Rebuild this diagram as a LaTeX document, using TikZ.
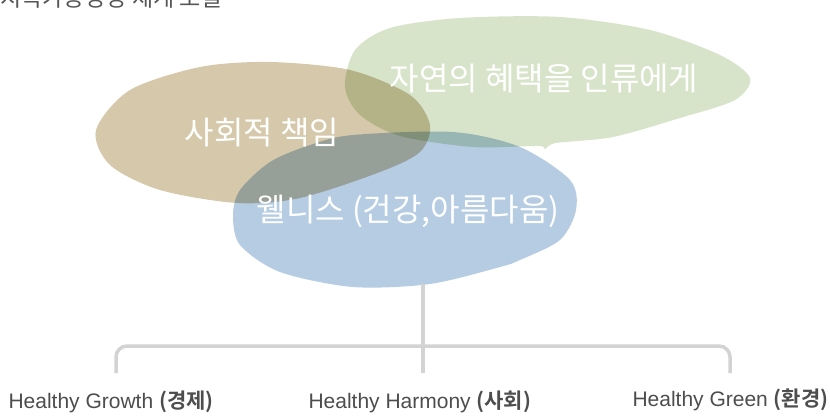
\documentclass[tikz,border=0pt]{standalone}
\usepackage{fontspec}
\setmainfont{Liberation Sans}
\newfontfamily\krfont{Noto Sans CJK KR}[BoldFont={Noto Sans CJK KR Bold}]
\definecolor{blobtan}{HTML}{D6C9AB}
\definecolor{blobgreen}{HTML}{D7E4CA}
\definecolor{blobblue}{HTML}{B5CCE3}
\definecolor{linegray}{HTML}{D3D3D3}
\definecolor{labelgray}{HTML}{4D4D4D}
\definecolor{titlegray}{HTML}{555555}
\tikzset{
  blobtext/.style={text=white,font=\krfont\fontsize{32}{34}\selectfont},
  bracket/.style={draw=linegray,line width=3.5pt},
  pillar/.style={text=labelgray,anchor=west,font=\fontsize{21}{24}\selectfont}
}
\begin{document}
\begin{tikzpicture}[x=1pt,y=-1pt]
	\useasboundingbox (0,0) rectangle (830,420);
	\clip (0,0) rectangle (830,420);
	% title, cut off at the top edge
	\node[anchor=base west,inner sep=0pt,text=titlegray,font=\krfont\fontsize{23}{25}\selectfont] (title) at (0,6.5) {지속가능경영 체계 모델};
	% the three blobs
	\begin{scope}[blend mode=multiply]
		\fill[blobtan] plot[smooth cycle] coordinates {(96,130) (130,90) (200,67) (270,62) (350,70) (410,95) (430,125) (420,152) (380,172) (300,198) (237,203) (160,190) (110,165)};
		\fill[blobgreen] plot[smooth cycle] coordinates {(345,87) (355,50) (390,28) (460,18) (560,17) (650,30) (720,55) (750,78) (735,100) (680,118) (613,137) (556,143) (545,149) (538,146) (473,147) (400,136) (360,115)};
		\fill[blobblue] plot[smooth cycle] coordinates {(233,215) (240,190) (270,162) (310,145) (353,135) (453,132) (520,147) (570,180) (576,210) (560,240) (520,260) (500,267) (430,284) (353,287) (280,272) (240,245)};
	\end{scope}
	\node[blobtext] (social) at (262,133) {사회적 책임};
	\node[blobtext] (nature) at (544,79) {자연의 혜택을 인류에게};
	\node[blobtext] (wellness) at (408,211) {웰니스 (건강,아름다움)};
	% bracket down to the three labels
	\coordinate (stem) at (423,284);
	\coordinate (hub) at (423,346);
	\coordinate (midend) at (423,373);
	\coordinate (leftend) at (116,373);
	\coordinate (rightend) at (730,373);
	\draw[bracket] (stem)--(midend);
	\draw[bracket,rounded corners=11pt] (leftend) |- (hub) -| (rightend);
	\node[pillar] (growth) at (5,402) {Healthy Growth {\krfont\bfseries (경제)}};
	\node[pillar] (harmony) at (305,402) {Healthy Harmony {\krfont\bfseries (사회)}};
	\node[pillar] (green) at (629,400) {Healthy Green {\krfont\bfseries (환경)}};
\end{tikzpicture}
\end{document}
